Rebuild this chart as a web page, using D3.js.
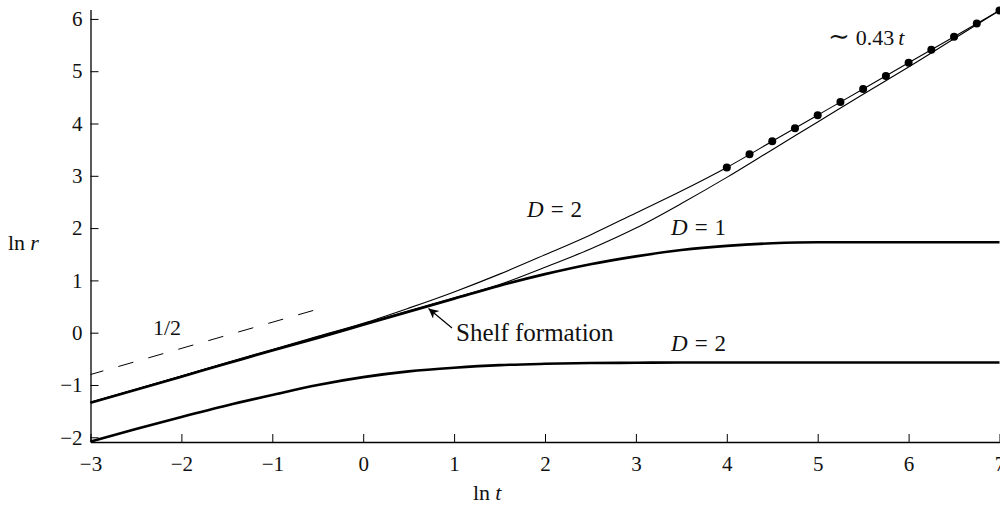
<!DOCTYPE html>
<html>
<head>
<meta charset="utf-8">
<script src="https://cdn.jsdelivr.net/npm/d3@7"></script>
<style>
  html, body { margin: 0; padding: 0; background: #fff; }
  svg { display: block; }
  text { font-family: "Liberation Serif", "DejaVu Serif", serif; fill: #111; }
</style>
</head>
<body>
<svg id="chart" width="1000" height="507"></svg>
<script>
// ln t sample points shared by the four curves
const lnT = [-3, -2.5, -2, -1.5, -1, -0.5, 0, 0.5, 1, 1.5, 2, 2.5, 3, 3.5, 4, 4.5, 5, 5.5, 6, 6.5, 7];

// thin curves (upper one labelled D = 2)
const thinUpper = [-1.33, -1.08, -0.83, -0.57, -0.32, -0.07, 0.18, 0.47, 0.78, 1.12, 1.49, 1.87, 2.29, 2.71, 3.16, 3.66, 4.16, 4.66, 5.16, 5.66, 6.16];
const thinLower = [-1.33, -1.08, -0.83, -0.58, -0.33, -0.08, 0.17, 0.42, 0.67, 0.92, 1.25, 1.60, 2.00, 2.47, 2.97, 3.50, 4.03, 4.56, 5.08, 5.62, 6.16];

// thick curves with a shelf (D = 1 and D = 2)
const shelfD1 = [-1.34, -1.09, -0.84, -0.59, -0.34, -0.10, 0.15, 0.40, 0.65, 0.90, 1.12, 1.31, 1.46, 1.58, 1.66, 1.71, 1.73, 1.73, 1.73, 1.73, 1.73];
const shelfD2 = [-2.08, -1.84, -1.61, -1.39, -1.19, -1.00, -0.85, -0.74, -0.67, -0.62, -0.595, -0.58, -0.575, -0.57, -0.57, -0.57, -0.57, -0.57, -0.57, -0.57, -0.57];

// slope-1/2 reference segment
const halfT = [-3, -0.55];
const halfR = [-0.80, 0.425];

// markers for the ~0.43 t asymptote
const dotT = [4, 4.25, 4.5, 4.75, 5, 5.25, 5.5, 5.75, 6, 6.25, 6.5, 6.75, 7];
const dotR = [3.16, 3.41, 3.66, 3.91, 4.16, 4.41, 4.66, 4.91, 5.16, 5.41, 5.66, 5.91, 6.16];

// axis ticks
const xTicks = [-3, -2, -1, 0, 1, 2, 3, 4, 5, 6, 7];
const yTicks = [-2, -1, 0, 1, 2, 3, 4, 5, 6];

const svg = d3.select("#chart");

const x = d3.scaleLinear().domain([-3, 7]).range([90.5, 999.5]);
const y = d3.scaleLinear().domain([-2.09, 6.18]).range([442, 9.5]);

const fmt = d => d < 0 ? "\u2212" + Math.abs(d) : String(d);

// axes with inward ticks
const xAxis = svg.append("g")
  .attr("transform", `translate(0,${y(-2.09)})`)
  .call(d3.axisBottom(x).tickValues(xTicks).tickFormat(fmt).tickSizeInner(-8).tickSizeOuter(0).tickPadding(14));
const yAxis = svg.append("g")
  .attr("transform", `translate(${x(-3)},0)`)
  .call(d3.axisLeft(y).tickValues(yTicks).tickFormat(fmt).tickSizeInner(-8).tickSizeOuter(0).tickPadding(8));

[xAxis, yAxis].forEach(g => {
  g.selectAll("path.domain").attr("stroke", "#000").attr("stroke-width", 1.3);
  g.selectAll(".tick line").attr("stroke", "#000").attr("stroke-width", 1);
  g.selectAll(".tick text").style("font-size", "21px").style("font-family", "'Liberation Serif', serif").attr("fill", "#111");
});

const line = d3.line().x(d => x(d[0])).y(d => y(d[1])).curve(d3.curveMonotoneX);
const zipT = vals => lnT.map((t, i) => [t, vals[i]]);

const curves = svg.append("g").attr("fill", "none").attr("stroke", "#000").attr("stroke-linejoin", "round");

// dashed segment drawn from its right end so that a full dash finishes it there
const halfPts = halfT.map((t, i) => [t, halfR[i]]).reverse();
curves.append("path").attr("d", d3.line().x(d => x(d[0])).y(d => y(d[1]))(halfPts))
  .attr("stroke-width", 1).attr("stroke-dasharray", "15.6,15.6");

curves.append("path").attr("d", line(zipT(thinUpper))).attr("stroke-width", 1.1);
curves.append("path").attr("d", line(zipT(thinLower))).attr("stroke-width", 1.1);
curves.append("path").attr("d", line(zipT(shelfD1))).attr("stroke-width", 2.6);
curves.append("path").attr("d", line(zipT(shelfD2))).attr("stroke-width", 2.6);

svg.append("g").selectAll("circle")
  .data(dotT.map((t, i) => [t, dotR[i]]))
  .join("circle")
  .attr("cx", d => x(d[0])).attr("cy", d => y(d[1])).attr("r", 4).attr("fill", "#000");

// annotation arrow
svg.append("defs").append("marker")
  .attr("id", "head").attr("viewBox", "0 0 10 10").attr("refX", 10).attr("refY", 5)
  .attr("markerWidth", 12).attr("markerHeight", 10).attr("markerUnits", "userSpaceOnUse")
  .attr("orient", "auto")
  .append("path").attr("d", "M0,0 L10,5 L0,10 L3,5 Z").attr("fill", "#000");

svg.append("line")
  .attr("x1", 452).attr("y1", 328).attr("x2", 428.5).attr("y2", 308.5)
  .attr("stroke", "#000").attr("stroke-width", 1.2).attr("marker-end", "url(#head)");

// labels
const label = (px, py, size) => svg.append("text").attr("x", px).attr("y", py).style("font-size", size + "px");

label(456, 341, 25).text("Shelf formation");

const dLabel = (px, py, n) => {
  const t = label(px, py, 23);
  t.append("tspan").attr("font-style", "italic").text("D");
  t.append("tspan").attr("dx", 7).text("=");
  t.append("tspan").attr("dx", 7).text(n);
};
dLabel(527, 217, "2");
dLabel(671, 235, "1");
dLabel(671, 351, "2");

const asym = label(828, 45, 22);
asym.append("tspan").style("font-size", "26px").text("\u223C");
asym.append("tspan").attr("dx", 6).text("0.43");
asym.append("tspan").attr("dx", 4).attr("font-style", "italic").text("t");

label(153, 335, 22).text("1/2");

const yl = label(8, 250, 22);
yl.append("tspan").text("ln");
yl.append("tspan").attr("dx", 5).attr("font-style", "italic").text("r");

const xl = label(473, 500, 22);
xl.append("tspan").text("ln");
xl.append("tspan").attr("dx", 5).attr("font-style", "italic").text("t");
</script>
</body>
</html>
